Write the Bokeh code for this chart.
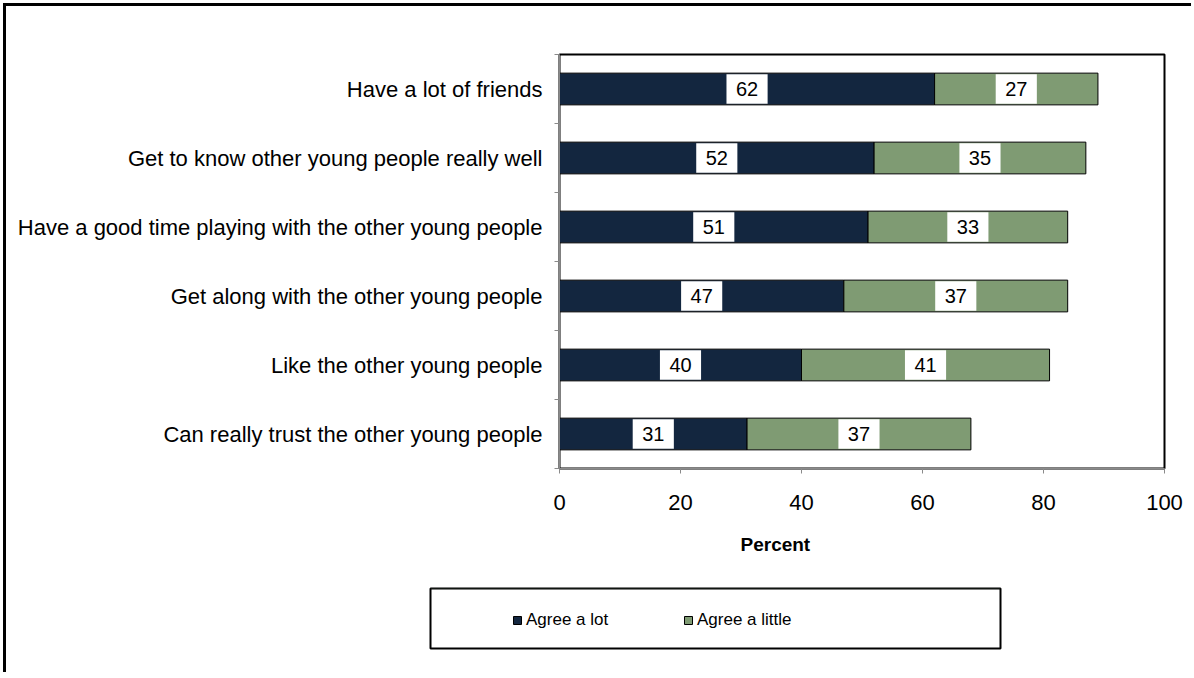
from bokeh.plotting import figure
from bokeh.models import Range1d, FixedTicker, Legend, LegendItem, Title, ColumnDataSource
from bokeh.embed import file_html
from bokeh.resources import INLINE
from bokeh.core.properties import value

categories = [
    "Have a lot of friends",
    "Get to know other young people really well",
    "Have a good time playing with the other young people",
    "Get along with the other young people",
    "Like the other young people",
    "Can really trust the other young people",
]
agree_lot = [62, 52, 51, 47, 40, 31]
agree_little = [27, 35, 33, 37, 41, 37]
x_ticks = [0, 20, 40, 60, 80, 100]
series_names = ["Agree a lot", "Agree a little"]
colors = ["#13263F", "#7F9B73"]
x_title = "Percent"

FONT = "Liberation Sans"
n = len(categories)
ys = [n - 0.5 - i for i in range(n)]
boundaries = list(range(n + 1))
little_end = [a + b for a, b in zip(agree_lot, agree_little)]
lot_mid = [a / 2 for a in agree_lot]
little_mid = [a + b / 2 for a, b in zip(agree_lot, agree_little)]

p = figure(width=1188, height=569, x_range=Range1d(0, 100), y_range=Range1d(0, n),
           output_backend="svg", toolbar_location=None,
           min_border_left=553, min_border_right=30, min_border_top=48, min_border_bottom=107)
p.styles = {"border-left": "3px solid black", "border-top": "3px solid black",
            "margin-left": "3px", "margin-top": "3px"}
p.background_fill_color = "white"
p.border_fill_color = "white"
p.outline_line_color = "black"
p.outline_line_width = 2
p.xgrid.visible = False
p.ygrid.visible = False

bar_h = 0.46
src = ColumnDataSource(dict(y=ys, lot=agree_lot, end=little_end, lot_mid=lot_mid,
                            little_mid=little_mid,
                            lot_txt=[str(v) for v in agree_lot],
                            little_txt=[str(v) for v in agree_little]))
r_lot = p.hbar(y="y", left=0, right="lot", height=bar_h, source=src,
               fill_color=colors[0], line_color="black", line_width=1)
r_little = p.hbar(y="y", left="lot", right="end", height=bar_h, source=src,
                  fill_color=colors[1], line_color="black", line_width=1)

for col, tcol in (("lot_mid", "lot_txt"), ("little_mid", "little_txt")):
    p.rect(x=col, y="y", width=6.8, height=bar_h - 0.03, source=src,
           fill_color="white", line_color=None)
    p.text(x=col, y="y", text=tcol, source=src, text_align="center",
           text_baseline="middle", text_font=value(FONT), text_font_size="20px",
           text_color="black")

# x axis
xa = p.xaxis[0]
xa.ticker = FixedTicker(ticks=x_ticks)
xa.axis_line_color = "#8a8a8a"
xa.major_tick_line_color = "#8a8a8a"
xa.major_tick_out = 5
xa.major_tick_in = 0
xa.minor_tick_line_color = None
xa.major_label_standoff = 21
xa.major_label_text_font = FONT
xa.major_label_text_font_size = "22px"
xa.major_label_text_color = "black"

# y axis
ya = p.yaxis[0]
ya.ticker = FixedTicker(ticks=ys, minor_ticks=boundaries)
ya.major_label_overrides = {y: c for y, c in zip(ys, categories)}
ya.axis_line_color = "#8a8a8a"
ya.major_tick_line_color = None
ya.major_tick_out = 0
ya.major_tick_in = 0
ya.minor_tick_line_color = "#8a8a8a"
ya.minor_tick_out = 5
ya.minor_tick_in = 0
ya.major_label_standoff = 12
ya.major_label_text_font = FONT
ya.major_label_text_font_size = "22px"
ya.major_label_text_color = "black"

p.add_layout(Title(text=x_title, align="left", offset=181, standoff=38,
                   text_font=FONT, text_font_size="19px", text_font_style="bold",
                   text_color="black"), "below")

# legend panel (its frame is the legend box), a separate root so frames are not aligned
lf = figure(width=1188, height=100, x_range=Range1d(0, 1), y_range=Range1d(0, 1),
            output_backend="svg", toolbar_location=None,
            x_axis_type=None, y_axis_type=None,
            min_border_left=424, min_border_right=194, min_border_top=16, min_border_bottom=24)
lf.styles = {"border-left": "3px solid black", "margin-left": "3px"}
lf.xgrid.visible = False
lf.ygrid.visible = False
lf.outline_line_color = "black"
lf.outline_line_width = 2
lf.background_fill_color = "white"
lf.border_fill_color = "white"

items = []
for name, c in zip(series_names, colors):
    # legend swatch renderer; its single bar lies outside the visible range
    r = lf.hbar(y=[5], left=[0], right=[1], height=0.5, fill_color=c,
                line_color="black", line_width=1)
    items.append(LegendItem(label=name, renderers=[r]))
leg = Legend(items=items, location=(82, 18), orientation="horizontal", padding=0, spacing=0,
             glyph_width=10, glyph_height=10, label_standoff=4, label_width=157,
             border_line_color=None, background_fill_alpha=0, margin=0,
             label_text_font=FONT, label_text_font_size="17px", label_text_color="black")
lf.add_layout(leg, "center")

open("out.html", "w").write(file_html([p, lf], INLINE))
